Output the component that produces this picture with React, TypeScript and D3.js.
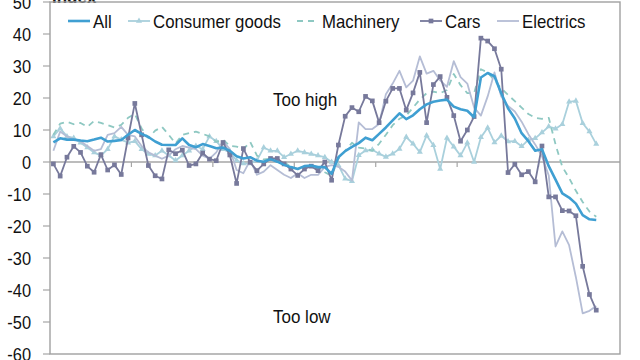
import * as d3 from "d3"

// monthly index values, 81 months
const allIdx = [
  6.1, 7.4, 7.0, 7.0, 6.7, 6.5, 7.0, 7.6, 6.4, 6.6, 6.9, 8.5, 10.0, 8.8, 7.8, 6.4, 5.4, 5.3, 5.3, 7.4,
  5.3, 4.6, 5.6, 5.0, 4.3, 4.5, 3.5, 1.8, 1.1, 1.5, 0.4, 0.1, 0.9, 0.1, -0.9, -1.6, -2.2, -1.3, -1.1, -1.6,
  -1.6, -3.7, 1.5, 3.4, 4.7, 5.9, 7.6, 6.8, 8.8, 10.8, 13.0, 15.2, 13.4, 14.6, 16.5, 18.0, 18.8, 19.2, 19.5, 17.3,
  16.5, 16.0, 14.0, 26.4, 27.8, 26.8, 21.5, 16.8, 13.6, 9.0, 6.5, 3.5, 4.0, -1.3, -5.5, -9.8, -11.1, -13.0, -16.6, -17.9,
  -18.1,
]
const consumerGoods = [
  8.0, 10.5, 8.0, 7.5, 6.0, 4.5, 3.0, 2.0, 4.0, 8.0, 7.0, 6.0, 6.5, 4.0, 2.5, 2.0, 3.5, 2.0, 0.5, 2.0,
  3.5, 5.0, 4.0, 8.0, 6.5, 4.0, 3.0, 0.5, -0.5, -0.5, 0.5, 4.5, 3.5, 3.5, 1.5, 2.5, 3.5, 3.0, 2.5, 2.0,
  1.5, 0.0, -1.0, -5.2, -6.0, 2.1, 3.6, 3.8, 2.6, 1.6, 2.6, 4.1, 7.8, 5.7, 3.1, 8.3, 5.2, -2.2, 7.5, 4.8,
  2.0, 6.0, 0.0, 7.7, 10.7, 6.1, 8.2, 6.4, 6.5, 4.9, 6.9, 7.4, 9.2, 11.1, 10.4, 11.8, 18.8, 19.1, 12.1, 9.5,
  5.6,
]
const machinery = [
  8.5, 12.0, 12.6, 11.8, 12.2, 11.0, 12.8, 12.2, 11.5, 10.8, 11.6, 13.8, 15.0, 10.5, 7.5, 9.8, 11.0, 8.5, 5.8, 8.5,
  9.0, 9.5, 8.8, 8.0, 6.3, 7.0, 5.0, 4.8, 4.0, 6.3, 2.0, 0.8, 1.0, 0.2, 0.0, -1.5, -2.2, -1.2, -1.5, -2.0,
  -3.2, -4.3, 1.0, 3.5, 6.0, 4.5, 4.2, 3.5, 5.7, 8.5, 11.5, 13.5, 14.5, 17.0, 19.5, 21.5, 22.0, 21.5, 22.5, 27.5,
  24.0, 21.5, 21.5, 29.0, 28.0, 25.5, 23.0, 21.0, 19.0, 17.0, 15.0, 13.8, 13.5, 13.8, 5.5, -1.5, -5.0, -9.0, -12.5, -15.5,
  -17.1,
]
const cars = [
  -0.6, -4.4, 1.5, 4.9, 3.0, -1.3, -3.2, 2.3, -2.5, -0.9, -3.9, 7.5, 18.3, 8.5, -1.1, -4.3, -5.3, 3.8, 2.6, 3.7,
  -1.1, -0.6, 2.8, 0.9, 0.4, 6.1, 2.2, -6.7, 4.2, -0.1, -2.7, -0.6, 1.1, 1.1, -0.6, -2.2, -4.2, -2.2, -1.3, -2.7,
  0.0, -5.7, 5.3, 14.3, 17.0, 15.7, 20.5, 19.1, 12.3, 19.0, 23.0, 23.0, 16.2, 21.6, 28.0, 12.3, 24.2, 26.7, 20.2, 14.5,
  6.5, 10.0, 14.2, 38.7, 37.8, 35.4, 29.0, -3.3, -0.7, -4.0, -3.0, -6.2, 5.0, -10.9, -10.9, -15.2, -15.3, -16.8, -32.6, -41.4,
  -46.3,
]
const electrics = [
  3.5, 9.5, 8.0, 7.0, 6.5, 5.0, 3.5, 4.0, 8.5, 9.0, 11.0, 8.5, 8.0, 5.0, 3.0, 2.0, 1.0, 2.0, 4.0, 5.0,
  4.5, 4.0, 2.0, 1.0, 3.0, 6.5, 4.0, -2.5, -3.5, 0.5, -4.0, -3.0, -1.0, -2.5, -4.0, -5.0, -3.5, -5.0, -4.0, -4.0,
  -1.5, -1.0, -1.5, -3.0, -5.8, 12.4, 10.3, 10.3, 11.9, 21.2, 24.5, 28.5, 23.3, 25.4, 33.0, 27.6, 28.5, 25.5, 23.5, 31.5,
  26.5, 24.5, 17.0, 14.5, 20.5, 28.0, 20.5, 17.5, 15.8, 12.6, 8.7, 5.5, 1.8, -4.2, -26.4, -21.7, -26.0, -36.0, -47.3, -46.5,
  -45.0,
]
const yTicks = [50, 40, 30, 20, 10, 0, -10, -20, -30, -40, -50, -60]
const yearTicks = [12, 24, 36, 48, 60, 72]

const series = [
  { name: "All", values: allIdx, color: "#3f9fd2", width: 2.6, dash: null, marker: null },
  { name: "Consumer goods", values: consumerGoods, color: "#a9d0dc", width: 1.8, dash: null, marker: "triangle" },
  { name: "Machinery", values: machinery, color: "#8ec8c2", width: 1.8, dash: "6,5", marker: null },
  { name: "Cars", values: cars, color: "#77799b", width: 1.8, dash: null, marker: "square" },
  { name: "Electrics", values: electrics, color: "#b5bdd5", width: 1.8, dash: null, marker: null },
]
const drawOrder = ["Consumer goods", "Machinery", "Electrics", "Cars", "All"]
const legendX = [68, 128, 297, 420, 497]

const W = 640
const H = 360
const left = 50
const right = 620
const top = 2
const bottom = 354

export default function App() {
  const x = d3.scaleLinear().domain([0, 84]).range([left, right])
  const y = d3.scaleLinear().domain([-60, 50]).range([bottom, top])
  const line = d3.line<number>()
    .x((_, i) => x(i + 0.5))
    .y(d => y(d))
  const tri = d3.symbol().type(d3.symbolTriangle).size(16)()
  const sq = d3.symbol().type(d3.symbolSquare).size(22)()
  const font = "'Liberation Sans', Arial, sans-serif"

  const marker = (kind: string | null, cx: number, cy: number, color: string, key: string) => {
    if (kind === "triangle") return <path key={key} d={tri || ""} transform={`translate(${cx},${cy})`} fill={color} />
    if (kind === "square") return <path key={key} d={sq || ""} transform={`translate(${cx},${cy})`} fill={color} />
    return null
  }

  return (
    <svg width={W} height={H} style={{ position: "absolute", left: 0, top: 0, background: "#fff" }} fontFamily={font}>
      <rect x={0} y={0} width={W} height={H} fill="#fff" />
      <text x={52} y={3} fontSize={17} fontWeight="bold" fill="#1a1a1a">Index</text>

      {/* y axis ticks and labels */}
      {yTicks.map(t => (
        <g key={t}>
          <line x1={left - 7} x2={left} y1={y(t)} y2={y(t)} stroke="#a6a6a6" strokeWidth={1.2} />
          <text transform={`translate(31,${y(t)}) scale(1,1.1)`} dy="0.36em" textAnchor="end" fontSize={16.4} fill="#111">{t}</text>
        </g>
      ))}

      {/* zero line with yearly ticks */}
      <line x1={left} x2={right} y1={y(0)} y2={y(0)} stroke="#a6a6a6" strokeWidth={1.3} />
      {yearTicks.map(m => (
        <line key={m} x1={x(m)} x2={x(m)} y1={y(0)} y2={y(0) + 5} stroke="#a6a6a6" strokeWidth={1.2} />
      ))}

      {/* series */}
      {drawOrder.map(n => {
        const s = series.find(d => d.name === n)!
        return (
          <g key={n}>
            <path d={line(s.values) || ""} fill="none" stroke={s.color} strokeWidth={s.width}
              strokeDasharray={s.dash || undefined} strokeLinejoin="round" />
            {s.values.map((v, i) => marker(s.marker, x(i + 0.5), y(v), s.color, `${n}-${i}`))}
          </g>
        )
      })}

      {/* frame */}
      <rect x={left} y={top} width={right - left} height={bottom - top} fill="none" stroke="#a0a0a0" strokeWidth={1.4} />

      {/* legend */}
      {series.map((s, i) => (
        <g key={s.name}>
          <line x1={legendX[i]} x2={legendX[i] + 22} y1={21} y2={21} stroke={s.color} strokeWidth={s.width}
            strokeDasharray={s.dash || undefined} />
          {marker(s.marker, legendX[i] + 11, 21, s.color, `lg-${i}`)}
          <text transform={`translate(${legendX[i] + 25},21) scale(1,1.12)`} dy="0.36em" fontSize={16.8} fill="#111">{s.name}</text>
        </g>
      ))}

      <text transform="translate(273,106) scale(1,1.08)" fontSize={17} fill="#111">Too high</text>
      <text transform="translate(273,323) scale(1,1.08)" fontSize={17} fill="#111">Too low</text>
    </svg>
  )
}
